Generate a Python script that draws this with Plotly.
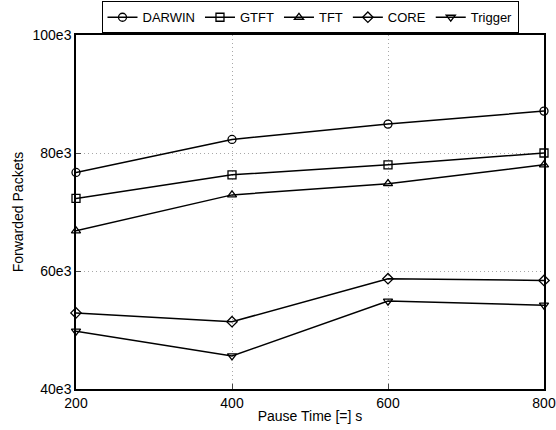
import plotly.graph_objects as go

pause_time = [200, 400, 600, 800]
darwin = [76.7, 82.3, 84.9, 87.1]
gtft = [72.3, 76.3, 78.0, 80.0]
tft = [66.8, 72.9, 74.8, 78.0]
core = [52.9, 51.4, 58.7, 58.4]
trigger = [49.8, 45.6, 54.9, 54.2]

series = [
    ("DARWIN", darwin, "circle-open"),
    ("GTFT", gtft, "square-open"),
    ("TFT", tft, "triangle-up-open"),
    ("CORE", core, "diamond-open"),
    ("Trigger", trigger, "triangle-down-open"),
]

y_ticks = [40, 60, 80, 100]
y_ticktext = ["40e3", "60e3", "80e3", "100e3"]
x_ticks = [200, 400, 600, 800]

fig = go.Figure()
for name, vals, sym in series:
    fig.add_trace(go.Scatter(
        x=pause_time, y=vals, name=name, mode="lines+markers",
        line=dict(color="black", width=1.5),
        marker=dict(symbol=sym, size=8, color="black", line=dict(width=1.3, color="black")),
        cliponaxis=False,
    ))

fig.update_layout(
    width=556, height=430,
    margin=dict(l=76, r=12, t=35, b=41, autoexpand=False),
    paper_bgcolor="white", plot_bgcolor="white",
    font=dict(family="Liberation Sans, Arial, sans-serif", size=14, color="black"),
    showlegend=True,
    legend=dict(
        orientation="h", x=0.5, xanchor="center",
        yref="container", y=0.997, yanchor="top",
        bordercolor="black", borderwidth=1, bgcolor="white",
        font=dict(size=13), itemwidth=30, tracegroupgap=0,
    ),
    xaxis=dict(
        range=[200, 800], tickvals=x_ticks, ticks="inside", ticklen=5,
        showgrid=True, gridcolor="#a8a8a8", griddash="1px,3px", gridwidth=1,
        showline=True, linecolor="black", linewidth=1.5, mirror=True,
        zeroline=False, automargin=False,
        title=dict(text="Pause Time [=] s", standoff=2, font=dict(size=14)),
        tickfont=dict(size=14),
    ),
    yaxis=dict(
        range=[40, 100], tickvals=y_ticks, ticktext=y_ticktext, ticks="inside", ticklen=5,
        showgrid=True, gridcolor="#a8a8a8", griddash="1px,3px", gridwidth=1,
        showline=True, linecolor="black", linewidth=1.5, mirror=True,
        zeroline=False, automargin=False,
        title=dict(text="Forwarded Packets", standoff=6, font=dict(size=14)),
        tickfont=dict(size=14),
    ),
)

fig.write_html("out.html")
